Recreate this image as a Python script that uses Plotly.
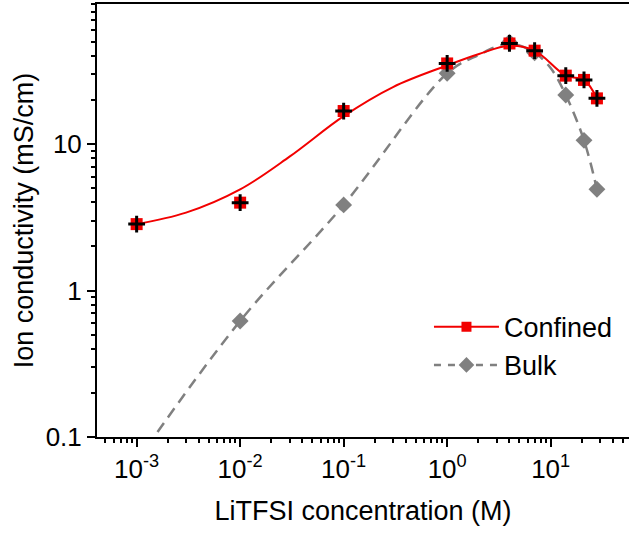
import plotly.graph_objects as go

# LiTFSI concentration (M) and measured ionic conductivity (mS/cm)
conc = [0.001, 0.01, 0.1, 1, 4, 7, 14, 21, 28]
confined = [2.84, 3.98, 16.8, 35.5, 48.6, 43.4, 29.3, 27.4, 20.5]

bulk_conc = [0.01, 0.1, 1, 4, 7, 14, 21, 28]
bulk = [0.62, 3.84, 30.4, 49.5, 42.0, 21.6, 10.6, 4.91]

# smooth guide curves drawn through the data
confined_fit_conc = [0.001, 0.003, 0.01, 0.03, 0.1, 0.3, 1, 2, 4, 7, 14, 21, 28]
confined_fit = [2.84, 3.4, 4.9, 8.2, 15.5, 24.5, 34.4, 41.0, 46.8, 43.4, 29.3, 27.4, 20.5]

bulk_fit_conc = [0.001, 0.01, 0.1, 1, 2, 4, 7, 10, 14, 21, 28]
bulk_fit = [0.068, 0.62, 3.84, 30.4, 40.5, 48.5, 42.0, 33.0, 21.6, 10.6, 4.91]

x_tickvals = [1e-3, 1e-2, 1e-1, 1e0, 1e1]
x_ticktext = ["10<sup>-3</sup>", "10<sup>-2</sup>", "10<sup>-1</sup>", "10<sup>0</sup>", "10<sup>1</sup>"]
y_tickvals = [0.1, 1, 10]
y_ticktext = ["0.1", "1", "10"]

FONT = "Arial, 'Liberation Sans', sans-serif"
RED = "#f20000"
GREY = "#808080"

fig = go.Figure()

fig.add_trace(go.Scatter(
    x=bulk_fit_conc, y=bulk_fit, mode="lines", line_shape="spline",
    line=dict(color=GREY, width=2.5, dash="11px,7px", smoothing=1.0),
    showlegend=False, hoverinfo="skip"))
fig.add_trace(go.Scatter(
    x=bulk_conc, y=bulk, mode="markers", name="Bulk",
    marker=dict(symbol="diamond", size=13, color=GREY, line=dict(width=0)),
    showlegend=False))

fig.add_trace(go.Scatter(
    x=confined_fit_conc, y=confined_fit, mode="lines", line_shape="spline",
    line=dict(color=RED, width=2, smoothing=1.0),
    showlegend=False, hoverinfo="skip"))
fig.add_trace(go.Scatter(
    x=conc, y=confined, mode="markers", name="Confined",
    marker=dict(symbol="square", size=12, color=RED, line=dict(width=0)),
    showlegend=False))
fig.add_trace(go.Scatter(
    x=conc, y=confined, mode="markers",
    marker=dict(symbol="cross-thin", size=12, color="black",
                line=dict(width=3, color="black")),
    showlegend=False, hoverinfo="skip"))

# legend entries (line + marker samples)
fig.add_trace(go.Scatter(
    x=[None], y=[None], mode="lines+markers", name="Confined",
    line=dict(color=RED, width=2),
    marker=dict(symbol="square", size=10, color=RED)))
fig.add_trace(go.Scatter(
    x=[None], y=[None], mode="lines+markers", name="Bulk",
    line=dict(color=GREY, width=2.5, dash="7px,7px"),
    marker=dict(symbol="diamond", size=12, color=GREY)))

minor_x = [m * 10.0 ** e for e in range(-4, 2) for m in range(2, 10)]
minor_y = [m * 10.0 ** e for e in range(-1, 2) for m in range(2, 10)]

fig.update_layout(
    width=629, height=533,
    margin=dict(l=97, r=0, t=4, b=96),
    paper_bgcolor="white", plot_bgcolor="white",
    font=dict(family=FONT, size=26, color="black"),
    showlegend=True,
    legend=dict(x=0.624, y=0.31, xanchor="left", yanchor="top",
                bgcolor="rgba(0,0,0,0)", itemwidth=65,
                font=dict(size=27), tracegroupgap=0),
    xaxis=dict(
        type="log", range=[-3.383, 1.757],
        tickmode="array", tickvals=x_tickvals, ticktext=x_ticktext,
        ticks="outside", ticklen=8, tickwidth=2, tickcolor="black",
        minor=dict(tickmode="array", tickvals=minor_x, ticks="outside",
                   ticklen=4, tickwidth=1.5, tickcolor="black", showgrid=False),
        showline=True, linewidth=2, linecolor="black", mirror=True,
        showgrid=False, zeroline=False,
        title=dict(text="LiTFSI concentration (M)", standoff=18,
                   font=dict(size=27)),
        tickfont=dict(size=26)),
    yaxis=dict(
        type="log", range=[-1, 1.956],
        tickmode="array", tickvals=y_tickvals, ticktext=y_ticktext,
        ticks="outside", ticklen=8, tickwidth=2, tickcolor="black",
        minor=dict(tickmode="array", tickvals=minor_y, ticks="outside",
                   ticklen=4, tickwidth=1.5, tickcolor="black", showgrid=False),
        showline=True, linewidth=2, linecolor="black",
        showgrid=False, zeroline=False,
        title=dict(text="Ion conductivity (mS/cm)", standoff=4,
                   font=dict(size=27)),
        tickfont=dict(size=26)),
)

fig.write_html("out.html")
